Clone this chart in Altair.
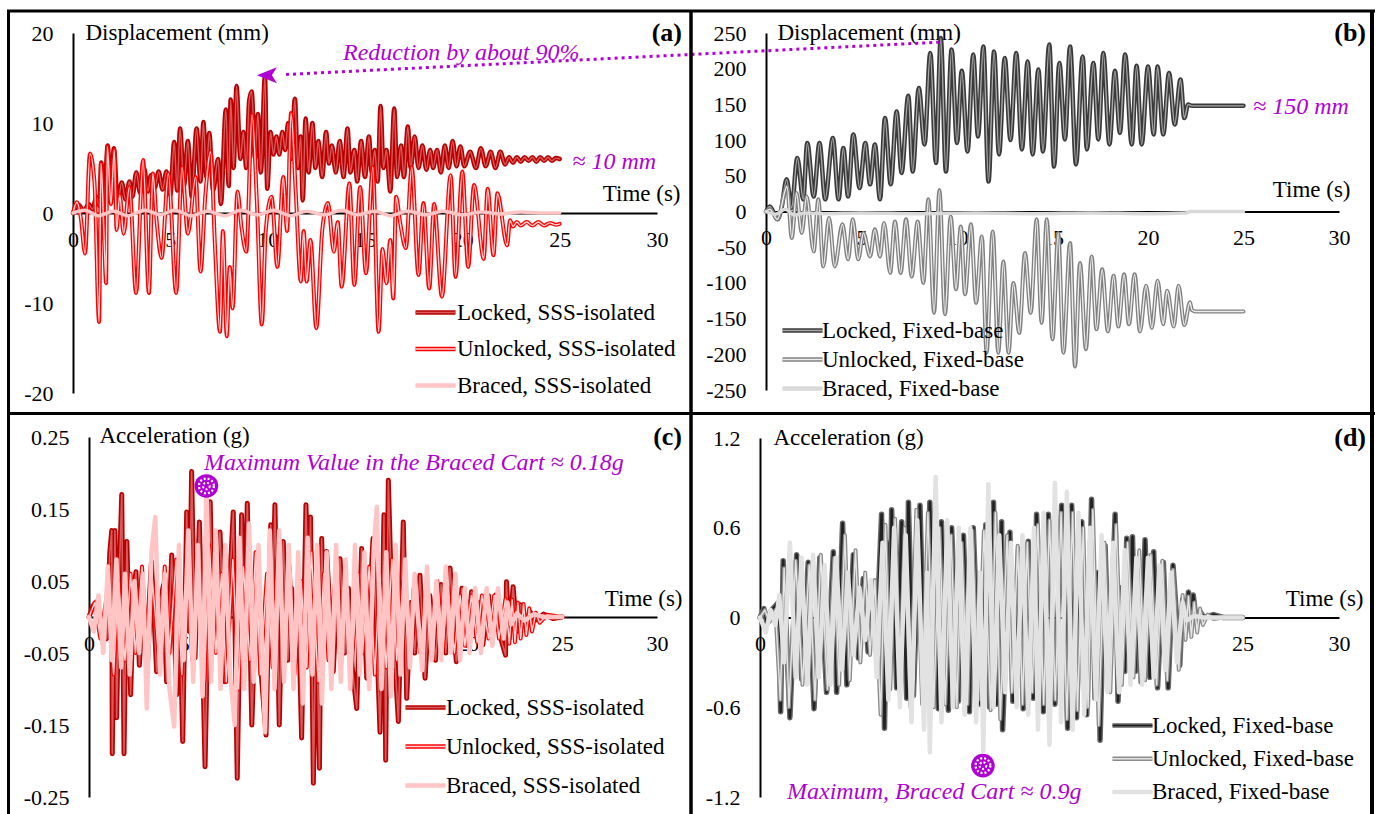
import altair as alt
import pandas as pd

FONT = "Liberation Serif, Times New Roman, Tinos, DejaVu Serif, serif"
PURPLE = "#b000d4"
W, H = 1381, 814

TIME_TICKS = [0, 5, 10, 15, 20, 25, 30]
TICKS_A = [-20, -10, 0, 10, 20]
TICKS_B = [-250, -200, -150, -100, -50, 0, 50, 100, 150, 200, 250]
TICKS_C = [-0.25, -0.15, -0.05, 0.05, 0.15, 0.25]
TICKS_D = [-1.2, -0.6, 0, 0.6, 1.2]

NAMES_SSS = ["Locked, SSS-isolated", "Unlocked, SSS-isolated", "Braced, SSS-isolated"]
NAMES_FB = ["Locked, Fixed-base", "Unlocked, Fixed-base", "Braced, Fixed-base"]

# ---------------- (a) displacement, SSS-isolated (mm) ----------------
A_LOCKED = [(0.0,0.0),(0.3,0.9),(0.55,0.2),(0.8,1.0),(1.0,0.4),(1.2,1.8),(1.35,0.8),(1.45,5.6),(1.6,1.2),(1.78,7.5),(1.95,2.0),(2.1,7.2),(2.3,1.0),(2.5,3.4),(2.7,1.5),(2.9,3.5),(3.05,1.8),(3.25,4.5),(3.45,2.2),(3.65,5.0),(3.85,2.4),(4.0,4.2),(4.2,2.8),(4.4,4.6),(4.6,2.6),(4.8,4.6),(5.0,2.0),(5.2,7.9),(5.35,2.5),(5.5,9.4),(5.7,3.0),(5.9,8.0),(6.1,1.8),(6.35,9.4),(6.55,3.5),(6.7,10.1),(6.85,4.0),(7.0,8.9),(7.2,2.5),(7.45,6.0),(7.6,1.0),(7.85,11.5),(8.0,3.0),(8.1,12.6),(8.25,5.0),(8.4,14.1),(8.6,6.0),(8.75,9.0),(8.9,5.0),(9.05,12.5),(9.18,13.5),(9.35,6.0),(9.5,11.0),(9.65,4.5),(9.86,15.2),(9.98,2.7),(10.15,9.0),(10.3,6.5),(10.45,8.5),(10.6,6.5),(10.75,9.0),(10.9,7.0),(11.05,10.0),(11.2,6.0),(11.4,12.7),(11.55,5.0),(11.7,8.5),(11.8,1.4),(11.95,10.5),(12.1,4.5),(12.3,10.0),(12.45,5.0),(12.6,8.0),(12.8,4.0),(13.0,9.0),(13.15,5.5),(13.3,7.5),(13.5,4.5),(13.7,8.0),(13.9,4.0),(14.1,9.4),(14.25,4.5),(14.45,7.0),(14.6,3.5),(14.8,8.0),(15.0,4.0),(15.2,8.5),(15.35,4.5),(15.5,7.0),(15.65,3.5),(15.8,11.9),(15.95,5.0),(16.1,7.0),(16.3,2.4),(16.5,11.6),(16.65,4.0),(16.85,7.5),(17.0,4.0),(17.2,9.6),(17.35,5.0),(17.55,8.5),(17.75,5.0),(17.95,7.5),(18.15,4.8),(18.35,7.0),(18.5,5.0),(18.7,7.0),(18.9,4.5),(19.1,7.5),(19.3,5.0),(19.5,8.0),(19.7,5.2),(19.9,7.4),(20.1,5.2),(20.4,6.8),(20.7,5.0),(20.95,7.2),(21.2,5.2),(21.45,6.8),(21.7,5.0),(21.95,6.8),(22.2,5.4),(22.4,6.2),(22.6,5.6),(22.8,6.2),(23.0,5.7),(23.2,6.2),(23.4,5.8),(23.6,6.2),(23.8,5.7),(24.0,6.2),(24.2,5.8),(24.4,6.2),(24.6,5.8),(24.8,6.1),(25.0,6.0)]
A_UNLOCKED = [(0.0,0.0),(0.2,1.2),(0.4,-0.5),(0.62,-4.5),(0.87,6.6),(1.1,3.5),(1.34,-12.1),(1.44,5.5),(1.6,-3.0),(1.7,-7.8),(1.76,7.4),(1.95,1.0),(2.12,7.0),(2.24,-1.9),(2.4,2.0),(2.6,-2.3),(2.9,2.9),(3.24,-8.9),(3.6,5.9),(3.9,-8.9),(4.1,4.4),(4.3,-1.0),(4.55,-5.0),(4.9,4.4),(5.3,-8.9),(5.6,5.1),(5.9,-2.3),(6.3,4.0),(6.55,-6.5),(6.8,2.0),(7.07,6.8),(7.3,-4.0),(7.55,-13.2),(7.7,-2.0),(7.9,-13.7),(8.05,-6.0),(8.2,-10.6),(8.45,2.4),(8.65,-1.5),(8.9,-4.3),(9.2,10.9),(9.45,1.0),(9.7,-12.4),(9.9,-2.0),(10.2,1.8),(10.5,-6.0),(10.8,4.0),(11.0,-2.0),(11.2,11.1),(11.45,2.0),(11.7,-7.6),(11.85,-2.0),(12.0,-7.6),(12.2,-3.0),(12.5,-12.8),(12.8,-2.0),(13.1,1.1),(13.4,-4.3),(13.6,-1.0),(13.8,-8.2),(14.2,3.3),(14.45,-8.0),(14.75,2.9),(15.05,-6.7),(15.4,5.1),(15.7,-13.2),(15.9,-4.0),(16.1,-7.8),(16.3,-3.0),(16.45,-9.5),(16.6,1.8),(16.8,-1.0),(17.1,-3.9),(17.4,5.1),(17.75,-6.9),(18.0,1.1),(18.3,-8.4),(18.55,1.0),(18.95,-9.3),(19.4,4.2),(19.65,-7.1),(20.0,4.6),(20.3,-6.0),(20.6,3.1),(21.1,-5.1),(21.3,2.7),(21.6,-4.7),(21.8,2.2),(22.3,-3.6),(22.45,-0.8),(22.6,-1.5),(22.8,-1.0),(23.0,-1.4),(23.3,-1.0),(23.6,-1.4),(23.9,-1.0),(24.2,-1.4),(24.5,-1.1),(24.8,-1.3),(25.0,-1.2)]
A_BRACED = [(0.0,0.0),(0.6,0.3),(1.3,-0.3),(2.1,0.2),(2.8,-0.3),(3.7,0.3),(4.5,-0.2),(5.2,0.3),(6.1,-0.3),(6.9,0.2),(7.8,-0.3),(8.6,0.3),(9.5,-0.2),(10.3,0.3),(11.2,-0.3),(12.0,0.2),(12.9,-0.2),(13.8,0.3),(14.6,-0.2),(15.5,0.2),(16.3,-0.3),(17.2,0.2),(18.1,-0.2),(19.0,0.2),(20.0,-0.2),(21.0,0.1),(22.0,-0.1),(23.0,0.1),(24.0,0.0),(25.0,0.0)]

# ---------------- (b) displacement, fixed-base (mm) ----------------
B_LOCKED = [(0.0,0),(0.2,7),(0.6,-11),(0.8,3),(1.08,45),(1.34,5),(1.64,75),(1.95,17),(2.16,96),(2.5,21),(2.8,96),(3.1,17),(3.5,103),(3.8,17),(4.05,89),(4.3,21),(4.57,108),(4.9,33),(5.2,96),(5.45,38),(5.7,94),(5.97,17),(6.23,131),(6.53,38),(6.84,140),(7.1,54),(7.45,162),(7.68,56),(8.0,173),(8.3,94),(8.6,222),(8.9,68),(9.15,243),(9.42,56),(9.72,227),(10.0,96),(10.25,197),(10.55,84),(10.85,220),(11.1,105),(11.38,231),(11.65,42),(11.94,224),(12.2,80),(12.5,215),(12.8,100),(13.1,222),(13.4,87),(13.7,210),(13.96,80),(14.26,199),(14.5,84),(14.83,234),(15.08,63),(15.36,208),(15.65,101),(15.92,231),(16.23,66),(16.58,217),(16.8,87),(17.14,208),(17.4,101),(17.66,222),(17.98,94),(18.27,197),(18.53,110),(18.8,220),(19.15,94),(19.4,204),(19.67,94),(20.0,203),(20.3,108),(20.5,203),(20.8,108),(21.1,194),(21.4,122),(21.7,185),(21.9,131),(22.1,150),(22.3,148),(23.0,148),(24.0,148),(25.0,148)]
B_UNLOCKED = [(0.0,0),(0.2,3),(0.6,-11),(1.1,35),(1.35,-37),(1.6,26),(1.87,-30),(2.13,21),(2.5,-56),(2.74,17),(3.0,-77),(3.3,-9),(3.6,-77),(4.0,-18),(4.3,-67),(4.54,-11),(4.83,-67),(5.1,-30),(5.45,-63),(5.7,-25),(5.97,-63),(6.18,-16),(6.5,-86),(6.75,-14),(7.05,-86),(7.33,-11),(7.63,-91),(7.94,-14),(8.24,-100),(8.5,17),(8.8,-142),(9.08,30),(9.37,-144),(9.67,-7),(9.95,-109),(10.2,-21),(10.42,-116),(10.73,-18),(11.0,-128),(11.3,-35),(11.55,-198),(11.87,-28),(12.16,-198),(12.43,-70),(12.7,-198),(12.95,-100),(13.26,-170),(13.56,-58),(13.86,-142),(14.17,-11),(14.43,-156),(14.7,-11),(15.0,-179),(15.3,-30),(15.57,-198),(15.92,-44),(16.18,-217),(16.44,-72),(16.75,-193),(17.05,-63),(17.3,-165),(17.6,-81),(17.9,-168),(18.2,-90),(18.45,-161),(18.75,-88),(19.0,-158),(19.3,-88),(19.58,-168),(19.9,-104),(20.2,-163),(20.5,-97),(20.8,-158),(21.0,-111),(21.35,-161),(21.6,-104),(21.9,-159),(22.2,-127),(22.3,-138),(22.5,-140),(23.5,-140),(25.0,-140)]
B_BRACED = [(0.0,0),(0.5,-4),(1.0,3),(1.5,-5),(2.0,-2),(3.0,-3),(5.0,-2),(8.0,-3),(11.0,-2),(14.0,-3),(17.0,-2),(20.0,-3),(22.0,-2),(22.2,0),(25.0,0)]

# ---------------- (c) acceleration, SSS-isolated (g) ----------------
C_LOCKED = [(0.0,0.0),(0.2,0.015),(0.4,0.021),(0.6,-0.02),(0.93,-0.03),(1.1,0.09),(1.2,0.12),(1.23,-0.19),(1.37,0.12),(1.46,-0.14),(1.6,0.06),(1.73,0.17),(1.85,-0.19),(2.0,0.105),(2.2,-0.108),(2.35,0.03),(2.48,0.063),(2.66,-0.067),(2.85,0.02),(3.05,-0.04),(3.3,0.077),(3.57,-0.076),(3.75,0.02),(3.93,0.044),(4.1,-0.09),(4.37,0.086),(4.63,-0.108),(4.8,0.01),(4.95,-0.173),(5.16,0.146),(5.3,-0.02),(5.42,0.202),(5.6,-0.057),(5.83,0.132),(6.0,-0.05),(6.13,-0.208),(6.4,0.16),(6.57,-0.039),(6.75,0.06),(6.92,0.118),(7.18,-0.09),(7.4,0.03),(7.62,0.146),(7.83,-0.224),(8.06,0.142),(8.2,-0.05),(8.36,0.158),(8.6,-0.15),(8.86,0.063),(9.1,-0.08),(9.35,-0.164),(9.6,0.128),(9.7,0.02),(9.82,0.156),(10.05,-0.15),(10.26,0.105),(10.5,-0.06),(10.7,0.04),(10.9,-0.06),(11.05,0.02),(11.23,-0.168),(11.46,0.156),(11.6,0.0),(11.7,0.139),(11.85,-0.231),(12.0,0.03),(12.17,-0.21),(12.29,0.109),(12.4,-0.02),(12.55,0.091),(12.9,-0.076),(13.1,0.03),(13.26,0.081),(13.5,-0.05),(13.7,0.04),(13.9,-0.07),(14.14,-0.127),(14.4,0.095),(14.67,-0.085),(14.85,0.03),(15.0,0.109),(15.2,-0.03),(15.37,-0.16),(15.58,0.142),(15.67,-0.199),(15.81,0.19),(16.0,0.01),(16.34,-0.145),(16.6,0.132),(16.78,-0.113),(17.0,0.02),(17.2,-0.05),(17.48,0.058),(17.75,-0.085),(18.0,0.03),(18.3,-0.06),(18.6,0.045),(18.85,-0.05),(19.07,0.068),(19.4,-0.062),(19.7,0.04),(20.0,-0.04),(20.2,0.035),(20.5,-0.03),(20.65,0.02),(20.8,-0.039),(21.1,0.03),(21.3,-0.02),(21.5,0.031),(21.75,-0.03),(22.0,-0.053),(22.05,0.049),(22.2,-0.03),(22.4,0.042),(22.6,-0.02),(22.8,0.017),(23.0,-0.01),(23.3,0.007),(23.6,-0.004),(24.0,0.004),(24.5,-0.002),(25.0,0.0)]
C_UNLOCKED = [(0.0,0.0),(0.3,0.02),(0.6,-0.03),(1.0,0.04),(1.3,-0.08),(1.55,0.05),(1.9,-0.06),(2.2,0.06),(2.45,-0.05),(2.8,0.07),(3.1,-0.07),(3.35,0.05),(3.7,-0.06),(4.0,0.07),(4.25,-0.05),(4.6,0.08),(4.9,-0.08),(5.2,0.09),(5.45,-0.06),(5.8,0.07),(6.1,-0.09),(6.35,0.1),(6.7,-0.05),(7.0,0.06),(7.25,-0.09),(7.6,0.08),(7.9,-0.1),(8.15,0.07),(8.5,-0.06),(8.8,0.09),(9.05,-0.08),(9.4,0.06),(9.7,-0.07),(9.95,0.08),(10.3,-0.05),(10.6,0.07),(10.85,-0.08),(11.2,0.05),(11.5,-0.07),(11.75,0.09),(12.1,-0.09),(12.4,0.06),(12.65,-0.06),(13.0,0.05),(13.3,-0.07),(13.55,0.04),(13.9,-0.06),(14.2,0.06),(14.45,-0.05),(14.8,0.07),(15.1,-0.08),(15.35,0.06),(15.7,-0.07),(16.0,0.08),(16.25,-0.06),(16.6,0.05),(16.9,-0.05),(17.15,0.04),(17.5,-0.05),(17.8,0.04),(18.05,-0.04),(18.4,0.05),(18.7,-0.04),(18.95,0.04),(19.3,-0.05),(19.6,0.03),(19.85,-0.04),(20.2,0.03),(20.5,-0.035),(20.75,0.03),(21.1,-0.03),(21.4,0.03),(21.65,-0.03),(22.0,0.025),(22.2,-0.037),(22.35,0.024),(22.5,-0.035),(22.65,0.02),(22.8,-0.03),(22.95,0.018),(23.1,-0.025),(23.25,0.012),(23.4,-0.02),(23.6,0.006),(23.8,-0.008),(24.2,0.003),(25.0,0.0)]
C_BRACED = [(0.0,0.0),(0.25,-0.02),(0.5,0.03),(0.75,-0.05),(1.0,0.07),(1.2,-0.06),(1.45,0.08),(1.7,-0.07),(1.9,0.06),(2.15,-0.08),(2.4,0.05),(2.65,-0.05),(2.85,0.06),(3.05,-0.127),(3.3,0.09),(3.5,0.139),(3.75,-0.08),(4.0,0.06),(4.25,-0.1),(4.5,-0.152),(4.75,0.1),(5.0,-0.06),(5.25,0.12),(5.5,-0.09),(5.75,0.1),(6.0,-0.11),(6.2,0.182),(6.45,-0.09),(6.7,0.12),(6.95,-0.1),(7.2,0.1),(7.45,-0.08),(7.7,-0.15),(7.95,0.11),(8.2,-0.1),(8.45,0.13),(8.7,-0.09),(8.95,0.1),(9.3,-0.16),(9.55,0.12),(9.8,-0.1),(10.05,0.12),(10.3,-0.09),(10.55,0.1),(10.8,-0.1),(11.05,0.09),(11.3,-0.12),(11.55,0.11),(11.8,-0.08),(12.05,0.1),(12.3,-0.12),(12.55,0.09),(12.8,-0.1),(13.05,0.1),(13.3,-0.09),(13.55,0.08),(13.8,-0.1),(14.05,0.1),(14.3,-0.08),(14.55,0.09),(14.8,-0.1),(15.05,0.1),(15.2,0.153),(15.45,-0.1),(15.7,0.09),(15.95,-0.11),(16.2,0.1),(16.45,-0.08),(16.7,0.08),(16.95,-0.07),(17.2,0.06),(17.6,-0.074),(17.85,0.07),(18.1,-0.06),(18.35,0.05),(18.6,-0.06),(18.85,0.07),(19.1,-0.05),(19.35,0.06),(19.6,-0.06),(19.85,0.04),(20.1,-0.05),(20.4,0.04),(20.7,-0.05),(21.0,0.04),(21.3,-0.04),(21.6,0.04),(21.9,-0.03),(22.1,0.02),(22.3,-0.01),(22.6,0.005),(23.0,-0.005),(23.5,0.004),(24.0,0.0),(25.0,0.0)]

# ---------------- (d) acceleration, fixed-base (g) ----------------
D_LOCKED = [(0.0,0.0),(0.2,0.06),(0.35,-0.03),(0.6,0.05),(0.95,0.1),(1.07,-0.63),(1.2,0.38),(1.55,-0.67),(1.9,0.42),(2.16,-0.41),(2.5,0.37),(2.8,-0.61),(3.1,0.4),(3.45,-0.5),(3.8,0.44),(3.97,-0.5),(4.28,0.63),(4.5,-0.45),(4.84,0.42),(5.1,-0.27),(5.35,0.26),(5.6,-0.23),(5.87,0.22),(6.05,-0.1),(6.3,0.69),(6.45,-0.74),(6.6,0.5),(6.7,-0.41),(6.82,0.72),(7.08,-0.47),(7.34,0.64),(7.6,-0.54),(7.69,0.77),(7.95,-0.52),(8.29,0.75),(8.55,-0.56),(8.8,0.77),(9.24,-0.61),(9.4,0.64),(9.76,-0.62),(9.93,0.6),(10.28,-0.56),(10.54,0.55),(10.85,-0.63),(11.05,0.6),(11.4,-0.58),(11.7,0.62),(11.9,-0.6),(12.1,0.77),(12.26,-0.58),(12.52,0.64),(12.57,-0.75),(12.95,0.57),(13.1,-0.56),(13.4,0.46),(13.64,-0.61),(13.9,0.51),(14.16,-0.54),(14.33,0.69),(14.68,-0.63),(14.94,0.69),(15.28,-0.58),(15.63,0.75),(15.94,-0.74),(16.15,0.75),(16.4,-0.67),(16.67,0.64),(16.93,-0.65),(17.18,0.79),(17.36,-0.54),(17.5,0.3),(17.62,-0.82),(17.88,0.48),(18.1,-0.4),(18.4,0.69),(18.55,-0.56),(18.75,0.2),(18.9,-0.36),(19.0,0.53),(19.15,-0.1),(19.3,0.54),(19.45,-0.36),(19.6,0.2),(19.75,-0.43),(19.95,0.52),(20.2,-0.4),(20.4,0.44),(20.6,-0.47),(20.9,0.37),(21.15,-0.47),(21.4,0.35),(21.75,-0.32),(21.9,0.12),(22.05,-0.1),(22.2,0.17),(22.3,-0.05),(22.45,0.15),(22.6,-0.02),(22.8,0.04),(23.0,0.0),(23.5,0.02),(24.0,0.0),(25.0,0.0)]
D_UNLOCKED = [(0.0,0.0),(0.25,0.05),(0.5,-0.03),(0.8,0.05),(1.05,-0.55),(1.25,0.33),(1.5,-0.6),(1.85,0.38),(2.2,-0.45),(2.55,0.35),(2.85,-0.55),(3.15,0.42),(3.5,-0.48),(3.85,0.4),(4.1,-0.45),(4.4,0.55),(4.65,-0.42),(4.95,0.45),(5.2,-0.3),(5.45,0.3),(5.7,-0.25),(5.95,0.25),(6.25,-0.65),(6.5,0.62),(6.75,-0.48),(7.0,0.66),(7.25,-0.52),(7.5,0.6),(7.8,-0.6),(8.1,0.72),(8.4,-0.58),(8.7,0.7),(9.0,-0.6),(9.3,0.6),(9.6,-0.58),(9.9,0.55),(10.2,-0.6),(10.45,0.5),(10.75,-0.58),(11.0,0.58),(11.3,-0.55),(11.6,0.58),(11.95,-0.62),(12.2,0.7),(12.45,-0.68),(12.8,0.55),(13.05,-0.5),(13.35,0.48),(13.6,-0.58),(13.85,0.5),(14.1,-0.5),(14.4,0.62),(14.7,-0.58),(15.0,0.65),(15.3,-0.55),(15.6,0.7),(15.9,-0.68),(16.2,0.7),(16.45,-0.62),(16.75,0.6),(17.0,-0.6),(17.25,0.72),(17.55,-0.72),(17.85,0.5),(18.15,-0.5),(18.45,0.62),(18.75,-0.45),(19.05,0.5),(19.35,-0.4),(19.65,0.45),(19.95,-0.42),(20.25,0.42),(20.55,-0.45),(20.85,0.38),(21.1,-0.42),(21.4,0.32),(21.7,-0.35),(21.9,0.15),(22.05,-0.15),(22.2,0.14),(22.35,-0.13),(22.5,0.1),(22.65,-0.1),(22.8,0.06),(22.95,-0.05),(23.2,0.02),(23.5,-0.01),(24.0,0.0),(25.0,0.0)]
D_BRACED = [(0.0,0.0),(0.3,-0.1),(0.55,0.05),(0.8,-0.05),(1.0,0.15),(1.25,-0.3),(1.55,0.5),(1.85,-0.4),(2.15,0.4),(2.45,-0.45),(2.75,0.42),(3.05,-0.4),(3.35,0.35),(3.65,-0.45),(3.95,0.4),(4.25,-0.35),(4.55,0.3),(4.85,-0.25),(5.15,0.2),(5.45,-0.15),(5.75,0.25),(6.05,-0.4),(6.35,0.5),(6.65,-0.55),(6.95,0.6),(7.25,-0.6),(7.55,0.55),(7.85,-0.7),(8.15,0.65),(8.5,-0.75),(8.65,0.3),(8.8,-0.9),(9.1,0.94),(9.4,-0.7),(9.7,0.65),(10.0,-0.6),(10.3,0.6),(10.6,-0.65),(10.9,0.6),(11.2,-0.7),(11.4,0.3),(11.57,-0.89),(11.83,0.89),(12.1,-0.6),(12.4,0.55),(12.7,-0.5),(13.0,0.5),(13.3,-0.6),(13.6,0.55),(13.9,-0.65),(14.2,0.6),(14.4,-0.75),(14.7,0.7),(15.0,-0.85),(15.28,0.9),(15.6,-0.7),(15.9,0.84),(16.2,-0.75),(16.5,0.7),(16.8,-0.65),(17.1,0.6),(17.4,-0.55),(17.7,0.55),(18.0,-0.5),(18.3,0.5),(18.6,-0.5),(18.9,0.45),(19.2,-0.45),(19.5,0.4),(19.8,-0.45),(20.1,0.4),(20.4,-0.4),(20.7,0.35),(21.0,-0.35),(21.3,0.3),(21.6,-0.3),(21.9,0.1),(22.1,-0.02),(22.5,0.01),(23.0,0.0),(25.0,0.0)]

# annotations (time, value, text)
NOTE_A = [(25.65, 5.7, "\u2248 10 mm")]
NOTE_B = [(25.5, 147, "\u2248 150 mm")]
MAX_C = [(6.2, 0.182)]
MAX_D = [(11.55, -0.99)]
ARROW_TIP_A = [(9.96, 15.3)]

RED_OUT = ["#b80000", "#ff0000", "#ffc4c4"]
RED_IN = ["#d85a5a", "#ffd6d6", "#ffc4c4"]
GRAY_OUT_B = ["#3a3a3a", "#808080", "#d9d9d9"]
GRAY_IN_B = ["#a8a8a8", "#eeeeee", "#d9d9d9"]
GRAY_OUT_D = ["#666666", "#8a8a8a", "#e2e2e2"]
GRAY_IN_D = ["#222222", "#e6e6e6", "#e2e2e2"]

PANELS = [
    dict(names=NAMES_SSS, series=[A_LOCKED, A_UNLOCKED, A_BRACED], xr=[73, 657], yr=[393, 33],
         yd=[-20, 20], yt=TICKS_A, yfmt="d", ytitle="Displacement (mm)", ytx=12, yty=32,
         zero=213, xtx=680, xty=-20, outc=RED_OUT, inc=RED_IN, ow=[4.5, 4.0, 3.5], iw=[1.4, 1.4, 1.4],
         lx=424, ly=301, lo=10, rp=12.5, interp="monotone"),
    dict(names=NAMES_FB, series=[B_LOCKED, B_UNLOCKED, B_BRACED], xr=[766, 1339], yr=[390, 33],
         yd=[-250, 250], yt=TICKS_B, yfmt="d", ytitle="Displacement (mm)", ytx=11, yty=32,
         zero=211.5, xtx=1350, xty=-22, outc=GRAY_OUT_B, inc=GRAY_IN_B, ow=[4.5, 4.0, 3.5], iw=[1.4, 1.4, 1.4],
         lx=791, ly=319, lo=8, rp=5, interp="monotone"),
    dict(names=NAMES_SSS, series=[C_LOCKED, C_UNLOCKED, C_BRACED], xr=[89, 657], yr=[797, 437],
         yd=[-0.25, 0.25], yt=TICKS_C, yfmt=".2f", ytitle="Acceleration (g)", ytx=10, yty=435,
         zero=617, xtx=682, xty=-19, outc=RED_OUT, inc=RED_IN, ow=[5.0, 4.0, 4.5], iw=[1.6, 1.4, 1.4],
         lx=414, ly=696, lo=9, rp=15, interp="linear"),
    dict(names=NAMES_FB, series=[D_LOCKED, D_UNLOCKED, D_BRACED], xr=[760, 1339], yr=[797, 438],
         yd=[-1.2, 1.2], yt=TICKS_D, yfmt="~g", ytitle="Acceleration (g)", ytx=13, yty=437,
         zero=617.5, xtx=1363, xty=-19, outc=GRAY_OUT_D, inc=GRAY_IN_D, ow=[5.5, 4.0, 4.5], iw=[2.6, 1.4, 1.4],
         lx=1121, ly=714, lo=8, rp=9.3, interp="linear"),
]


def build_panel(p, extra):
    xs = alt.Scale(domain=[0, 30], range=p["xr"], nice=False, zero=False)
    ys = alt.Scale(domain=p["yd"], range=p["yr"], nice=False, zero=False)
    xa = alt.Axis(orient="bottom", offset=p["zero"] - H, values=TIME_TICKS, format="d",
                  title="Time (s)", titleAngle=0, titleAlign="right", titleBaseline="middle",
                  titleX=p["xtx"], titleY=p["xty"], titleFont=FONT, titleFontSize=23,
                  titleFontWeight="normal", titleColor="black", labelFont=FONT, labelFontSize=22,
                  labelColor="black", labelPadding=16, labelFlush=False, labelOverlap=False,
                  ticks=False, tickSize=0, grid=False, domainColor="black", domainWidth=2, zindex=0)
    yexpr = "(datum.value < 0 ? '-' : '') + format(abs(datum.value), '%s')" % p["yfmt"]
    ya = alt.Axis(orient="left", offset=-p["xr"][0], values=p["yt"], labelExpr=yexpr,
                  title=p["ytitle"], titleAngle=0, titleAlign="left", titleBaseline="middle",
                  titleX=p["ytx"], titleY=p["yty"], titleFont=FONT, titleFontSize=23,
                  titleFontWeight="normal", titleColor="black", labelFont=FONT, labelFontSize=22,
                  labelColor="black", labelPadding=20, labelFlush=False, labelOverlap=False,
                  ticks=False, tickSize=0, grid=False, domainColor="black", domainWidth=2, zindex=0)
    core_names = [n + " (core)" for n in p["names"]]
    cs = alt.Scale(domain=p["names"], range=p["outc"])
    ss = alt.Scale(domain=core_names, range=p["inc"])
    leg_common = dict(orient="none", legendX=p["lx"], legendY=p["ly"], title=None,
                      direction="vertical", symbolType="M-4,0H4", symbolSize=100,
                      labelFont=FONT, labelFontSize=23, labelColor="black",
                      labelOffset=p["lo"], labelLimit=400, rowPadding=p["rp"], padding=0)
    leg_out = alt.Legend(symbolStrokeWidth=4.5, zindex=1, **leg_common)
    # the second legend only draws the light core of the double-line symbols
    leg_in = alt.Legend(symbolStrokeWidth=1.4, labelExpr="''", zindex=2, **leg_common)

    def X():
        return alt.X("t:Q", scale=xs, axis=xa)

    def Y():
        return alt.Y("v:Q", scale=ys, axis=ya)

    layers = []
    for i, (name, core, pts) in enumerate(zip(p["names"], core_names, p["series"])):
        df = pd.DataFrame({"t": [a for a, b in pts], "v": [b for a, b in pts],
                           "series": name, "core": core})
        layers.append(alt.Chart(df).mark_line(strokeWidth=p["ow"][i], interpolate=p["interp"],
                                              strokeJoin="round", strokeCap="round").encode(
            x=X(), y=Y(), color=alt.Color("series:N", scale=cs, legend=leg_out)))
        layers.append(alt.Chart(df).mark_line(strokeWidth=p["iw"][i], interpolate=p["interp"],
                                              strokeJoin="round", strokeCap="round").encode(
            x=X(), y=Y(), stroke=alt.Stroke("core:N", scale=ss, legend=leg_in)))
    for kind, rows in extra:
        if kind == "note":
            df = pd.DataFrame({"t": [r[0] for r in rows], "v": [r[1] for r in rows],
                               "label": [r[2] for r in rows]})
            layers.append(alt.Chart(df).mark_text(align="left", baseline="middle", font=FONT,
                                                  fontSize=24, fontStyle="italic", color=PURPLE).encode(
                x=X(), y=Y(), text="label:N"))
        elif kind == "max":
            df = pd.DataFrame({"t": [r[0] for r in rows], "v": [r[1] for r in rows]})
            layers.append(alt.Chart(df).mark_point(shape="circle", filled=True, size=560,
                                                   color=PURPLE, opacity=1).encode(x=X(), y=Y()))
            layers.append(alt.Chart(df).mark_point(shape="circle", filled=False, size=220,
                                                   color="white", strokeWidth=2.2, strokeDash=[2, 2],
                                                   opacity=1).encode(x=X(), y=Y()))
            layers.append(alt.Chart(df).mark_point(shape="circle", filled=False, size=45,
                                                   color="white", strokeWidth=2, strokeDash=[2, 2],
                                                   opacity=1).encode(x=X(), y=Y()))
        elif kind == "arrow":
            df = pd.DataFrame({"t": [r[0] for r in rows], "v": [r[1] for r in rows]})
            layers.append(alt.Chart(df).mark_point(shape="M-1,0L1,-0.8L0.5,0L1,0.8Z", filled=True,
                                                   size=400, color=PURPLE, opacity=1, dx=10).encode(
                x=X(), y=Y()))
    return alt.layer(*layers)


panel_a = build_panel(PANELS[0], [("note", NOTE_A), ("arrow", ARROW_TIP_A)])
panel_b = build_panel(PANELS[1], [("note", NOTE_B)])
panel_c = build_panel(PANELS[2], [("max", MAX_C)])
panel_d = build_panel(PANELS[3], [("max", MAX_D)])


def free_text(txt, x, y, size=24, italic=True, bold=False, color=PURPLE, align="left"):
    return alt.Chart().mark_text(text=txt, align=align, baseline="middle", font=FONT, fontSize=size,
                                 fontStyle="italic" if italic else "normal",
                                 fontWeight="bold" if bold else "normal", color=color).encode(
        x=alt.value(x), y=alt.value(y))


def hline(x1, x2, y, w=3):
    return alt.Chart().mark_rule(color="black", strokeWidth=w).encode(
        x=alt.value(x1), x2=alt.value(x2), y=alt.value(y))


def vline(x, y1, y2, w=3):
    return alt.Chart().mark_rule(color="black", strokeWidth=w).encode(
        x=alt.value(x), y=alt.value(y1), y2=alt.value(y2))


arrow_line = alt.Chart().mark_rule(color=PURPLE, strokeWidth=3, strokeDash=[3, 4]).encode(
    x=alt.value(286), y=alt.value(74.5), x2=alt.value(943), y2=alt.value(42))

decor = [
    arrow_line,
    free_text("Reduction by about 90%", 343, 53),
    free_text("Maximum Value in the Braced Cart \u2248 0.18g", 204, 463),
    free_text("Maximum, Braced Cart \u2248 0.9g", 787, 792),
    free_text("(a)", 682, 33, size=26, italic=False, bold=True, color="black", align="right"),
    free_text("(b)", 1366, 33, size=26, italic=False, bold=True, color="black", align="right"),
    free_text("(c)", 682, 437, size=26, italic=False, bold=True, color="black", align="right"),
    free_text("(d)", 1366, 438, size=26, italic=False, bold=True, color="black", align="right"),
    hline(7, 1375, 11),
    hline(7, 1375, 413.5),
    vline(8.5, 10, 814),
    vline(691, 10, 814, 3.5),
    vline(1372, 10, 814, 4),
]

chart = alt.layer(panel_a, panel_b, panel_c, panel_d, *decor).resolve_scale(
    x="independent", y="independent", color="independent", stroke="independent"
).resolve_axis(x="independent", y="independent").resolve_legend(
    color="independent", stroke="independent"
).properties(
    width=W, height=H, padding=0, background="white",
    autosize=alt.AutoSizeParams(type="none"),
).configure_view(stroke=None)

chart.save("out.html", embed_options={"renderer": "svg", "actions": False})
